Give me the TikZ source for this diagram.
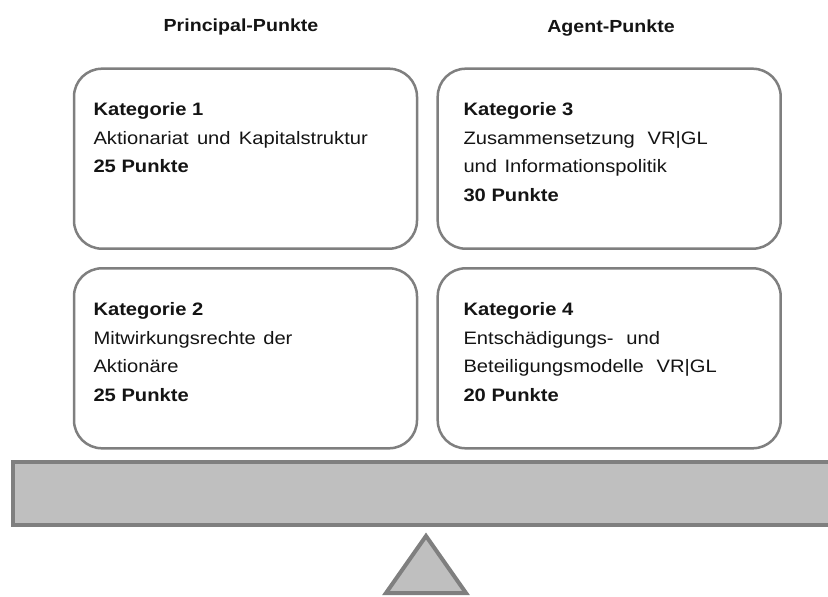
\documentclass[tikz,border=0pt]{standalone}
\usepackage{fontspec}
\setmainfont{Liberation Sans}[FakeStretch=1.12]
\definecolor{boxgray}{RGB}{127,127,127}
\definecolor{barfill}{RGB}{191,191,191}
\definecolor{txt}{RGB}{20,20,20}
\begin{document}
\begin{tikzpicture}[x=1pt,y=-1pt,
  catbox/.style={draw=boxgray, line width=2.5pt, rounded corners=28pt, fill=white,
    minimum width=343pt, minimum height=180pt, inner sep=0pt},
  cattext/.style={anchor=north west, align=left, inner sep=0pt, text=txt,
    font=\fontsize{18}{28.7}\selectfont},
  title/.style={font=\fontsize{17.5}{21}\selectfont\bfseries, text=txt, inner sep=0pt},
  balken/.style={draw=boxgray, line width=4pt, fill=barfill, line join=miter}]
\clip (0,0) rectangle (828,597);
\node[title] (pp) at (241,27) {Principal-Punkte};
\node[title] (ap) at (611,28) {Agent-Punkte};
\node[catbox] (k1) at (245.5,158.7) {};
\node[catbox] (k3) at (609.2,158.7) {};
\node[catbox] (k2) at (245.5,358.3) {};
\node[catbox] (k4) at (609.2,358.3) {};
\node[cattext] (t1) at (93.3,102.3) {\textbf{Kategorie 1}\\Aktionariat\hspace{0.15em} und\hspace{0.15em} Kapitalstruktur\\\textbf{25 Punkte}};
\node[cattext] (t3) at (463.3,102.3) {\textbf{Kategorie 3}\\Zusammensetzung\hspace{0.4em} VR|GL\\und\hspace{0.1em} Informationspolitik\\\textbf{30 Punkte}};
\node[cattext] (t2) at (93.3,302.3) {\textbf{Kategorie 2}\\Mitwirkungsrechte\hspace{0.1em} der\\Aktionäre\\\textbf{25 Punkte}};
\node[cattext] (t4) at (463.3,302.3) {\textbf{Kategorie 4}\\Entschädigungs-\hspace{0.4em} und\\Beteiligungsmodelle\hspace{0.4em} VR|GL\\\textbf{20 Punkte}};
\draw[balken] (13,462) rectangle (850,524.5);
\draw[balken] (426,536) -- (466,593) -- (386,593) -- cycle;
\end{tikzpicture}
\end{document}
